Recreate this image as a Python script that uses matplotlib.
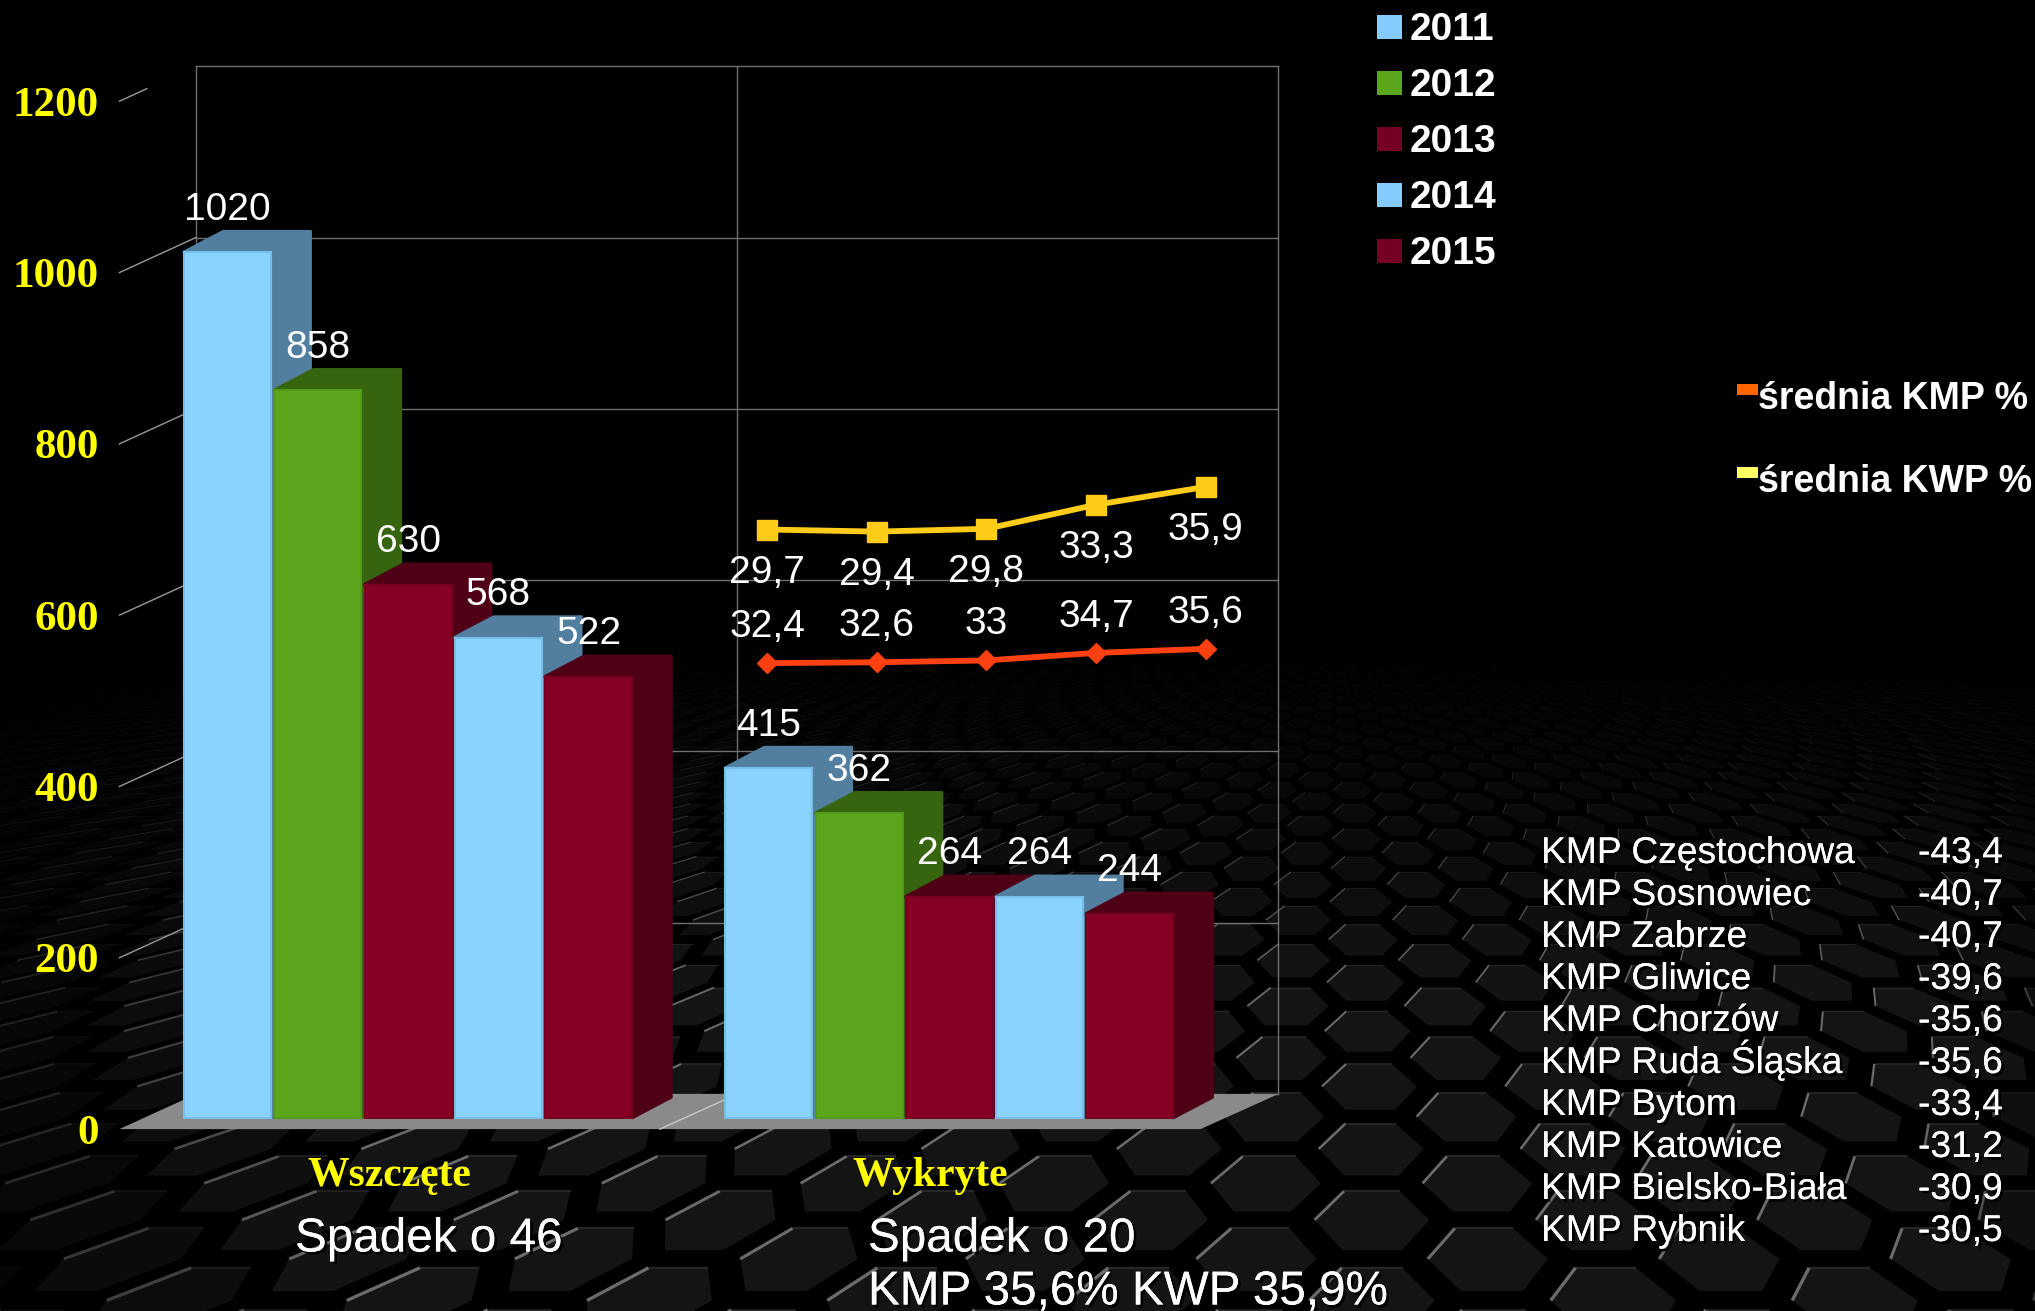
#!/usr/bin/python3
import numpy as np
import matplotlib
matplotlib.use("Agg")
import matplotlib.pyplot as plt
from matplotlib.collections import PolyCollection, LineCollection
from matplotlib.patches import Polygon, Rectangle
from matplotlib.lines import Line2D
import matplotlib.patheffects as pe

plt.rcParams['font.family'] = ['Liberation Sans', 'DejaVu Sans']

# data
years = ["2011", "2012", "2013", "2014", "2015"]
groups = ["Wszczęte", "Wykryte"]
wszczete = [1020, 858, 630, 568, 522]
wykryte = [415, 362, 264, 264, 244]
kwp_pct = [29.7, 29.4, 29.8, 33.3, 35.9]
kmp_pct = [32.4, 32.6, 33, 34.7, 35.6]
pct_series = ["średnia KMP %", "średnia KWP %"]
y_ticks = [0, 200, 400, 600, 800, 1000, 1200]
city_names = ["KMP Częstochowa", "KMP Sosnowiec", "KMP Zabrze", "KMP Gliwice", "KMP Chorzów",
              "KMP Ruda Śląska", "KMP Bytom", "KMP Katowice", "KMP Bielsko-Biała", "KMP Rybnik"]
city_values = ["-43,4", "-40,7", "-40,7", "-39,6", "-35,6", "-35,6", "-33,4", "-31,2", "-30,9", "-30,5"]

W, H = 2035, 1311
BLUE, GREEN, RED = "#88D3FF", "#5CA61E", "#850023"
year_colors = [BLUE, GREEN, RED, BLUE, RED]
side_colors = {BLUE: "#527FA0", GREEN: "#37640F", RED: "#500016"}
edge_colors = {BLUE: "#78BEE8", GREEN: "#529A1A", RED: "#780020"}
legend_colors = ["#84CBFF", "#5CA61E", "#740022", "#84CBFF", "#740022"]
GRID = "#707070"

fig = plt.figure(figsize=(W / 100, H / 100), dpi=100, facecolor="black")


def add_axes_px(x0, x1, ybot, ytop, z):
    # axes box given in pixels of the picture, y counted from the top
    ax = fig.add_axes([x0 / W, 1 - ybot / H, (x1 - x0) / W, (ybot - ytop) / H], zorder=z)
    ax.patch.set_alpha(0)
    for s in ax.spines.values():
        s.set_visible(False)
    return ax


# hexagon floor in the background picture
def floor_xy(u, v):
    t = 40.0 * 1.065 ** v
    x = 1250 + u * 0.353 * t
    # right hand side keeps leaning the same way as the left
    x = x + 0.5 * (691 - t) * max(0.0, (x - 1000) / 1000)
    return x, 620 + t


def shade(x, t):
    return np.clip((t - 40) / 350, 0, 1) * np.clip((x + 150) / 550, 0.15, 1) * np.clip((2250 - x) / 300, 0.3, 1)


bg = fig.add_axes([0, 0, 1, 1], zorder=0)
bg.set_xlim(0, W)
bg.set_ylim(H, 0)
bg.axis("off")
hexes, hex_cols, strong, strong_cols, strong_lw, soft, soft_cols, soft_lw = [], [], [], [], [], [], [], []
a = 0.26
h = 0.78
for k in range(0, 52):
    for i in range(-240, 240):
        u = i + 0.5 * (k % 2)
        corners = [(u - a, k), (u - a / 2, k - h), (u + a / 2, k - h), (u + a, k), (u + a / 2, k + h), (u - a / 2, k + h)]
        pts = [floor_xy(c[0], c[1]) for c in corners]
        cx, cy = floor_xy(u, k)
        if cx < -250 or cx > W + 250 or cy > H + 100:
            continue
        t = cy - 620
        f = shade(cx, t)
        hexes.append(pts)
        hex_cols.append((0.075 * f + 0.005,) * 3)
        strong.append([pts[0], pts[1]])
        strong_cols.append((0.42 * f,) * 3)
        strong_lw.append(max(0.4, t / 691 * 2.4))
        soft.append([pts[1], pts[2]])
        soft_cols.append((0.15 * f,) * 3)
        soft_lw.append(max(0.3, t / 691 * 1.8))
bg.add_collection(PolyCollection(hexes, facecolors=hex_cols, edgecolors="none"))
bg.add_collection(LineCollection(soft, colors=soft_cols, linewidths=soft_lw))
bg.add_collection(LineCollection(strong, colors=strong_cols, linewidths=strong_lw))

# back wall of the 3d chart
S = W / 1568
ax_wall = add_axes_px(151 * S, 985 * S, 843 * S, 51 * S, 1)
ax_wall.set_xlim(0, 2)
ax_wall.set_ylim(0, 1200)
ax_wall.set_xticks([0, 1, 2])
ax_wall.set_yticks(y_ticks)
ax_wall.tick_params(length=0, labelleft=False, labelbottom=False)
ax_wall.grid(True, color=GRID, lw=1.0, clip_on=False)
ax_wall.set_axisbelow(True)

# front edge of the floor carries the axis labels
ax_front = add_axes_px(92 * S, 925 * S, 870 * S, 78 * S, 2)
ax_front.set_xlim(0, 2)
ax_front.set_ylim(0, 1200)
ax_front.set_yticks(y_ticks)
ax_front.set_yticklabels([str(v) for v in y_ticks], family="Liberation Serif", fontweight="bold",
                         fontsize=31, color="#FFFF00")
ax_front.set_xticks([0.5, 1.5])
ax_front.set_xticklabels(groups, family="Liberation Serif", fontweight="bold", fontsize=30, color="#FFFF00")
ax_front.tick_params(axis="y", length=0, pad=15)
ax_front.tick_params(axis="x", length=0, pad=20)

to_fig = fig.transFigure.inverted()


def wall_to_front(x, v):
    return (to_fig.transform(ax_wall.transData.transform((x, v))),
            to_fig.transform(ax_front.transData.transform((x, v))))


floor = [wall_to_front(0, 0)[1], wall_to_front(2, 0)[1], wall_to_front(2, 0)[0], wall_to_front(0, 0)[0]]
fig.add_artist(Polygon(floor, closed=True, transform=fig.transFigure, facecolor="#8A8A8A", edgecolor="none", zorder=1.5))
for v in y_ticks[1:]:
    p, q = wall_to_front(0, v)
    # the top one stops short of the wall
    if v == y_ticks[-1]:
        p = q + (p - q) * 0.36
    fig.add_artist(Line2D([p[0], q[0]], [p[1], q[1]], transform=fig.transFigure, color="#9a9a9a", lw=1, zorder=1.5))
p, q = wall_to_front(1, 0)
fig.add_artist(Line2D([p[0], q[0]], [p[1], q[1]], transform=fig.transFigure, color="#c8c8c8", lw=1, zorder=1.6))

# bars
ax_bar = add_axes_px(106 * S, 940 * S, 864.4 * S, 76 * S, 3)
ax_bar.set_xlim(0, 2)
ax_bar.set_ylim(0, 1200)
ax_bar.axis("off")
slot = 69.5 / 417
bar_w = 67 / 417
depth_x = 30 / 417
depth_y = 24
base = 5


def draw_bar(x, val, col):
    left, right = x - bar_w / 2, x + bar_w / 2
    top = [(left, val), (left + depth_x, val + depth_y), (right + depth_x, val + depth_y), (right, val)]
    side = [(right, base), (right + depth_x, base + depth_y), (right + depth_x, val + depth_y), (right, val)]
    for face in (top, side):
        ax_bar.add_patch(Polygon(face, closed=True, facecolor=side_colors[col], edgecolor=side_colors[col],
                                 lw=2.5, joinstyle="round", clip_on=False))
    ax_bar.bar(x, val - base, bottom=base, width=bar_w, color=col, edgecolor=edge_colors[col], lw=1.5, clip_on=False)
    ax_bar.annotate(str(val), (x, val), xytext=(0, 30.5), textcoords="offset points", ha="center", va="center",
                    color="white", fontsize=28, zorder=20, annotation_clip=False)


for g, vals in enumerate([wszczete, wykryte]):
    for j, val in enumerate(vals):
        draw_bar(g + 0.5 + (j - 2) * slot, val, year_colors[j])

# the two percentage lines, each on its own scale
ax_kwp = add_axes_px(591 * S, 929 * S, 600 * S, 300 * S, 4)
ax_kwp.set_xlim(0, 4)
ax_kwp.set_ylim(-6.53, 50.08)
ax_kwp.axis("off")
ax_kwp.plot(kwp_pct, color="#FFCC1A", lw=4.2, marker="s", ms=14, clip_on=False)
ax_kmp = add_axes_px(591 * S, 929 * S, 600 * S, 300 * S, 4)
ax_kmp.set_xlim(0, 4)
ax_kmp.set_ylim(6.53, 93.7)
ax_kmp.axis("off")
ax_kmp.plot(kmp_pct, color="#FF4010", lw=4.2, marker="D", ms=10, clip_on=False)
for i in range(5):
    ax_kwp.annotate(str(kwp_pct[i]).replace(".", ","), (i, kwp_pct[i]), xytext=(0, -31), textcoords="offset points",
                    ha="center", va="center", color="white", fontsize=28, annotation_clip=False)
    ax_kmp.annotate(str(kmp_pct[i]).replace(".", ","), (i, kmp_pct[i]), xytext=(0, 26), textcoords="offset points",
                    ha="center", va="center", color="white", fontsize=28, annotation_clip=False)


def text_px(x, y, s, va="center", **kw):
    return fig.text(x / W, 1 - y / H, s, va=va, color="white", zorder=10, **kw)


# legends
for i, y in enumerate(years):
    fig.add_artist(Rectangle((1377 / W, 1 - (39 + 56 * i) / H), 25 / W, 24 / H, transform=fig.transFigure,
                             facecolor=legend_colors[i], edgecolor="none", zorder=10))
    text_px(1410, 30.5 + 56 * i, y, fontsize=28, fontweight="bold")
for i, (name, col) in enumerate(zip(pct_series, ["#FF6600", "#FFFF66"])):
    fig.add_artist(Rectangle((1737 / W, 1 - (395 + 83 * i) / H), 21 / W, 11 / H, transform=fig.transFigure,
                             facecolor=col, edgecolor="none", zorder=10))
    text_px(1758, 399 + 83 * i, name, fontsize=27, fontweight="bold")

# captions and the city table
shadow = [pe.withSimplePatchShadow(offset=(2, -2), shadow_rgbFace="black", alpha=0.9), pe.Normal()]
text_px(295, 1239, "Spadek o 46", fontsize=34.3, path_effects=shadow)
text_px(868, 1239, "Spadek o 20", fontsize=34.3, path_effects=shadow)
text_px(868, 1292, "KMP 35,6% KWP 35,9%", fontsize=34.3, path_effects=shadow)
for i in range(len(city_names)):
    text_px(1541, 863 + 42 * i, city_names[i], va="baseline", fontsize=26.8, path_effects=shadow)
    text_px(2003, 863 + 42 * i, city_values[i], va="baseline", fontsize=26.8, ha="right", path_effects=shadow)

fig.savefig("out.png", dpi=100, facecolor="black")
